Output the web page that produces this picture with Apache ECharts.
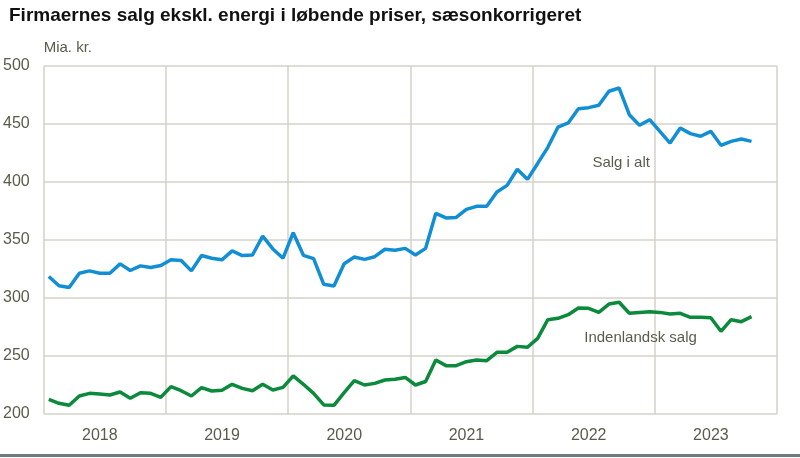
<!DOCTYPE html>
<html>
<head>
<meta charset="utf-8">
<script src="https://cdn.jsdelivr.net/npm/echarts@6/dist/echarts.min.js"></script>
<style>
  html, body { margin: 0; padding: 0; background: #fff; }
  #chart { width: 800px; height: 458px; }
</style>
</head>
<body>
<div id="chart"></div>
<script>
// monthly, Jan 2018 - Oct 2023 (mia. kr.)
const years = ['2018', '2019', '2020', '2021', '2022', '2023'];
const salgIAlt = [
  318.6, 310.6, 309, 321.4, 323.4, 321.4, 321.4, 329.4, 323.7, 327.7, 326.3, 328,
  332.9, 332.3, 323.4, 336.6, 334.3, 332.9, 340.6, 336.6, 337.1, 353.4, 342.3, 334.3,
  356.3, 336.8, 333.9, 311.8, 310.3, 329.6, 335.3, 333.3, 335.6, 342, 341.1, 342.8,
  337.1, 342.8, 373, 369, 369.5, 376.4, 379, 379, 391.4, 397.1, 411, 402.3,
  416, 429.9, 447.4, 450.9, 463.2, 464.1, 466.1, 478.2, 481, 458, 448.9, 453.7,
  443.7, 433.6, 446.6, 441.7, 439.4, 443.7, 431.6, 435, 437, 435
];
const indenlandsk = [
  212.6, 209.2, 207.5, 215.5, 217.8, 217.2, 216.4, 219, 213.5, 218.4, 217.8, 214.4,
  223.6, 220.1, 215.5, 222.7, 219.8, 220.4, 225.6, 222.1, 220.1, 225.6, 220.7, 223,
  232.8, 225.6, 217.8, 207.8, 207.5, 218.4, 228.7, 225, 226.4, 229.3, 229.9, 231.5,
  225, 228, 246.5, 241.7, 241.7, 245.1, 246.6, 246, 253.2, 253.2, 258.3, 257.5,
  265.2, 281.3, 282.5, 285.6, 291.4, 291.1, 287.6, 294.8, 296.3, 286.8, 287.6, 288.2,
  287.6, 286.2, 286.8, 283.3, 283.3, 283, 271.3, 281.3, 279.6, 283.9
];

const textCol = '#5b5b4c';
const gridCol = '#d5d2c8';
const font = '"Liberation Sans Narrow", "Liberation Sans", Arial, sans-serif';

// x position = month index + 0.5 (centre of month)
const toPts = arr => arr.map((v, i) => [i + 0.5, v]);

const chart = echarts.init(document.getElementById('chart'));
chart.setOption({
  animation: false,
  title: {
    text: 'Firmaernes salg ekskl. energi i løbende priser, sæsonkorrigeret',
    left: 4,
    top: 1,
    textStyle: { fontFamily: '"Liberation Sans", Arial, sans-serif', fontSize: 19, fontWeight: 'bold', color: '#111' }
  },
  grid: { left: 42, right: 23, top: 66, bottom: 44 },
  xAxis: [
    {
      type: 'value',
      min: 0,
      max: 72,
      interval: 12,
      axisLine: { show: false },
      axisTick: { show: false },
      axisLabel: { show: false },
      splitLine: { show: true, lineStyle: { color: gridCol, width: 1.5 } }
    },
    {
      type: 'category',
      data: years,
      position: 'bottom',
      boundaryGap: true,
      axisLine: { show: false },
      axisTick: { show: false },
      splitLine: { show: false },
      axisLabel: { color: textCol, fontSize: 16, fontFamily: font, margin: 14, padding: [0, 10, 0, 0] }
    }
  ],
  yAxis: {
    type: 'value',
    min: 200,
    max: 500,
    interval: 50,
    name: 'Mia. kr.',
    nameLocation: 'end',
    nameGap: 11,
    nameTextStyle: { color: textCol, fontSize: 15, fontFamily: font, align: 'left', verticalAlign: 'bottom' },
    axisLine: { show: false },
    axisTick: { show: false },
    axisLabel: { color: textCol, fontSize: 16, fontFamily: font, margin: 14 },
    splitLine: { show: true, lineStyle: { color: gridCol, width: 1.5 } }
  },
  series: [
    {
      name: 'Salg i alt',
      type: 'line',
      xAxisIndex: 0,
      data: toPts(salgIAlt),
      showSymbol: false,
      lineStyle: { color: '#128fd4', width: 3.5 },
      markPoint: {
        symbol: 'circle',
        symbolSize: 0,
        label: { show: true, formatter: 'Salg i alt', color: textCol, fontSize: 15, fontFamily: font, position: 'inside' },
        data: [{ coord: [56.7, 416.4] }]
      }
    },
    {
      name: 'Indenlandsk salg',
      type: 'line',
      xAxisIndex: 0,
      data: toPts(indenlandsk),
      showSymbol: false,
      lineStyle: { color: '#0b8a3c', width: 3.5 },
      markPoint: {
        symbol: 'circle',
        symbolSize: 0,
        label: { show: true, formatter: 'Indenlandsk salg', color: textCol, fontSize: 15, fontFamily: font, position: 'inside' },
        data: [{ coord: [58.6, 265.5] }]
      }
    }
  ],
  graphic: [
    { type: 'rect', left: 0, top: 454, shape: { width: 800, height: 3 }, style: { fill: '#6c7a83' } }
  ]
});
</script>
</body>
</html>
